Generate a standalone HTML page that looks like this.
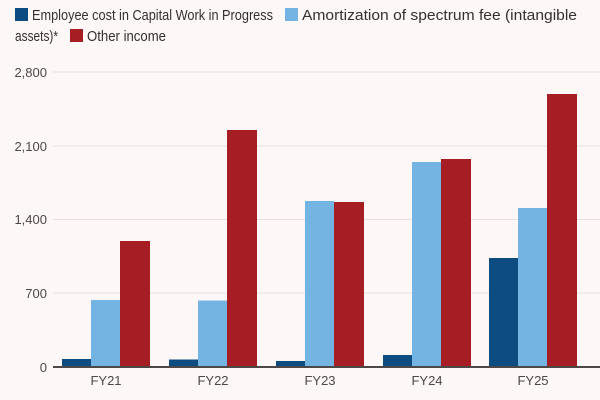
<!DOCTYPE html>
<html><head><style>
html,body{margin:0;padding:0;background:#fdf8f7;}
svg{display:block;font-family:"Liberation Sans",sans-serif;}
</style></head><body>
<svg width="600" height="400" viewBox="0 0 600 400">
<rect width="600" height="400" fill="#fdf8f7"/>
<g font-size="14.5" fill="#33302e">
<rect x="15" y="8" width="13" height="13" fill="#0d4c80"/>
<text x="32" y="20" textLength="241" lengthAdjust="spacingAndGlyphs">Employee cost in Capital Work in Progress</text>
<rect x="285" y="8" width="13" height="13" fill="#74b4e3"/>
<text x="302" y="20" textLength="275" lengthAdjust="spacingAndGlyphs">Amortization of spectrum fee (intangible</text>
<text x="15" y="41" textLength="43" lengthAdjust="spacingAndGlyphs">assets)*</text>
<rect x="70" y="29" width="13" height="13" fill="#a61d24"/>
<text x="87" y="41" textLength="79" lengthAdjust="spacingAndGlyphs">Other income</text>
</g>
<g stroke="#e8e1df" stroke-width="1">
<line x1="53" x2="600" y1="72" y2="72"/>
<line x1="53" x2="600" y1="146" y2="146"/>
<line x1="53" x2="600" y1="219.5" y2="219.5"/>
<line x1="53" x2="600" y1="293" y2="293"/>
</g>
<g font-size="13" fill="#4d4845" text-anchor="end">
<text x="47" y="77">2,800</text>
<text x="47" y="151">2,100</text>
<text x="47" y="224">1,400</text>
<text x="47" y="298">700</text>
<text x="47" y="372">0</text>
</g>
<g>
<rect x="62" y="359" width="29" height="8" fill="#0d4c80"/>
<rect x="91" y="300" width="29" height="67" fill="#74b4e3"/>
<rect x="120" y="241" width="30" height="126" fill="#a61d24"/>
<rect x="169" y="359.5" width="29" height="7.5" fill="#0d4c80"/>
<rect x="198" y="300.5" width="29" height="66.5" fill="#74b4e3"/>
<rect x="227" y="130" width="30" height="237" fill="#a61d24"/>
<rect x="276" y="361" width="29" height="6" fill="#0d4c80"/>
<rect x="305" y="201" width="29" height="166" fill="#74b4e3"/>
<rect x="334" y="202" width="30" height="165" fill="#a61d24"/>
<rect x="383" y="355" width="29" height="12" fill="#0d4c80"/>
<rect x="412" y="162" width="29" height="205" fill="#74b4e3"/>
<rect x="441" y="159" width="30" height="208" fill="#a61d24"/>
<rect x="489" y="258" width="29" height="109" fill="#0d4c80"/>
<rect x="518" y="208" width="29" height="159" fill="#74b4e3"/>
<rect x="547" y="94" width="30" height="273" fill="#a61d24"/>
</g>
<line x1="53" x2="600" y1="367" y2="367" stroke="#4d4845" stroke-width="2"/>
<g font-size="13" fill="#4d4845" text-anchor="middle">
<text x="106" y="385">FY21</text>
<text x="213" y="385">FY22</text>
<text x="320" y="385">FY23</text>
<text x="427" y="385">FY24</text>
<text x="533" y="385">FY25</text>
</g>
</svg>
</body></html>
